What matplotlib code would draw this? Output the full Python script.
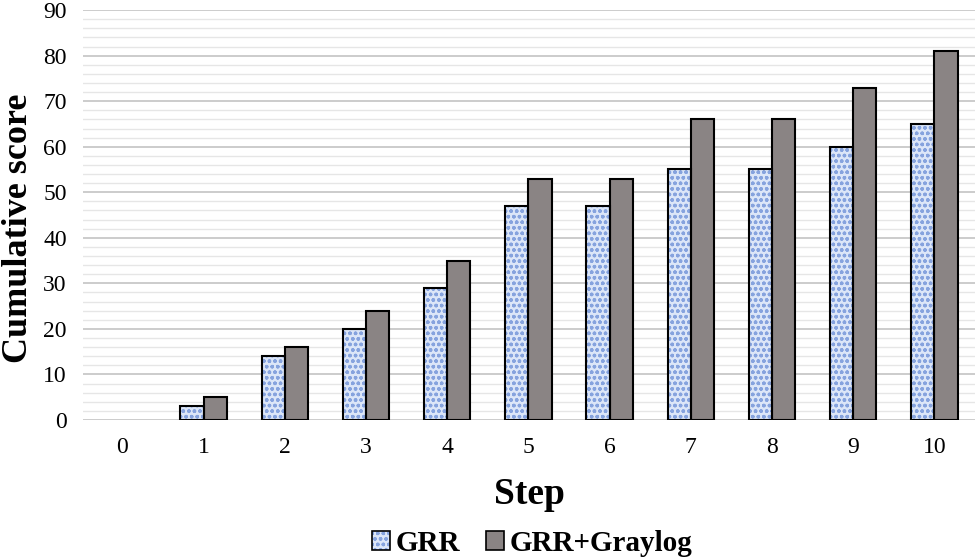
import numpy as np
import matplotlib.pyplot as plt
from matplotlib.patches import Patch

steps = [0, 1, 2, 3, 4, 5, 6, 7, 8, 9, 10]
grr = [0, 3, 14, 20, 29, 47, 47, 55, 55, 60, 65]
grr_graylog = [0, 5, 16, 24, 35, 53, 53, 66, 66, 73, 81]

plt.rcParams['font.family'] = ['Liberation Serif', 'DejaVu Serif']
plt.rcParams['hatch.linewidth'] = 1.0

fig = plt.figure(figsize=(9.8, 5.6), dpi=100)
ax = fig.add_axes([0.085, 0.25, 0.91, 0.732])

x = np.arange(len(steps))
width = 0.285

# no outline on zero-height bars
lw_grr = [1.5 if v > 0 else 0 for v in grr]
lw_gl = [1.5 if v > 0 else 0 for v in grr_graylog]

# blue dotted fill for GRR (hatch drawn separately, then black outline on top)
ax.bar(x - width / 2, grr, width, color='#dce6f8', edgecolor='#86a3de',
       hatch='ooo', linewidth=0, zorder=3)
ax.bar(x - width / 2, grr, width, fill=False, edgecolor='black', linewidth=lw_grr, zorder=4)
ax.bar(x + width / 2, grr_graylog, width, color='#8a8484', edgecolor='black',
       linewidth=lw_gl, zorder=3)

ax.set_xlim(-0.48, 10.5)
ax.set_ylim(0, 90)
ax.set_xticks(x)
ax.set_xticklabels([str(s) for s in steps])
ax.set_yticks(np.arange(0, 91, 10))
ax.set_yticks(np.arange(0, 91, 2), minor=True)
ax.grid(axis='y', which='major', color='#c8c8c8', linewidth=1.3, zorder=0)
ax.grid(axis='y', which='minor', color='#e6e6e6', linewidth=1.0, zorder=0)
ax.tick_params(axis='both', which='both', length=0, labelsize=17, pad=12)
ax.tick_params(axis='x', pad=12)
for s in ax.spines.values():
    s.set_visible(False)

ax.set_xlabel('Step', fontsize=27, fontweight='bold', labelpad=14)
fig.text(0.019, 0.593, 'Cumulative score', rotation=90, ha='center', va='center',
         fontsize=26, fontweight='bold')

h_grr = (Patch(facecolor='#dce6f8', edgecolor='#86a3de', hatch='ooo', linewidth=0),
         Patch(fill=False, edgecolor='black', linewidth=1.2))
h_gl = Patch(facecolor='#8a8484', edgecolor='black', linewidth=1.2)
fig.legend([h_grr, h_gl], ['GRR', 'GRR+Graylog'], loc='center', bbox_to_anchor=(0.543, 0.03),
           ncol=2, frameon=False, prop={'size': 21, 'weight': 'bold'},
           handlelength=0.6, handleheight=0.6, handletextpad=0.2, columnspacing=0.9)

fig.savefig('out.png', dpi=100)
